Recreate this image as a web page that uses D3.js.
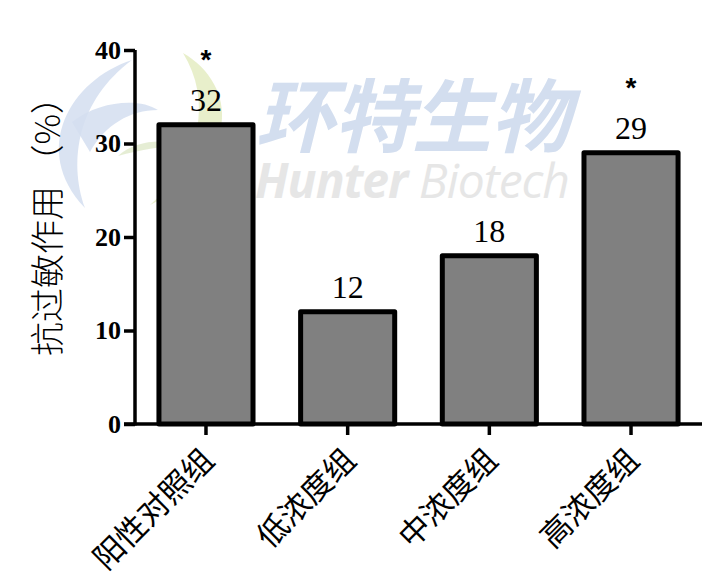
<!DOCTYPE html>
<html>
<head>
<meta charset="utf-8">
<script src="https://cdn.jsdelivr.net/npm/d3@7"></script>
<style>
  body { margin: 0; background: #fff; }
  svg { display: block; }
</style>
</head>
<body>
<div id="chart"></div>
<script>
const groups = ["阳性对照组", "低浓度组", "中浓度组", "高浓度组"];
const values = [32, 12, 18, 29];
const stars = ["*", "", "", "*"];
const yTicks = [0, 10, 20, 30, 40];
const yTitle = "抗过敏作用 （%）";

const W = 720, H = 586;
const plotLeft = 135, plotRight = 702, plotTop = 50, plotBottom = 424;

const svg = d3.select("#chart")
    .append("svg")
    .attr("width", W)
    .attr("height", H);

// watermark (faint logo + name, behind the chart)
const wm = svg.append("g").attr("class", "watermark");
wm.append("path")
    .attr("d", "M132,60 C70,80 30,150 85,208 C68,160 78,100 132,60 Z")
    .attr("fill", "#d3def0").attr("opacity", 0.85);
wm.append("path")
    .attr("d", "M72,122 C100,100 140,98 158,110 C130,110 105,125 90,152 Z")
    .attr("fill", "#d3def0").attr("opacity", 0.85);
wm.append("path")
    .attr("d", "M183,53 C238,85 242,160 150,205 C202,160 212,100 183,53 Z")
    .attr("fill", "#e4ecc2").attr("opacity", 0.85);
wm.append("path")
    .attr("d", "M118,156 C135,140 165,138 185,146 C160,146 140,150 118,156 Z")
    .attr("fill", "#e0eacd").attr("opacity", 0.85);
wm.append("text")
    .attr("x", 255).attr("y", 146)
    .style("font-family", "'Noto Sans CJK SC', sans-serif")
    .style("font-size", "80px")
    .style("font-weight", "bold")
    .style("font-style", "italic")
    .attr("fill", "#d3deef")
    .attr("textLength", 315)
    .text("环特生物");
const wmEn = wm.append("text")
    .attr("x", 255).attr("y", 198)
    .style("font-family", "'Open Sans', sans-serif")
    .style("font-size", "48px")
    .style("font-style", "italic")
    .attr("fill", "#e6e6e6")
    .attr("textLength", 315);
wmEn.append("tspan").style("font-weight", "bold").text("Hunter ");
wmEn.append("tspan").text("Biotech");

const x = d3.scaleBand()
    .domain(groups)
    .range([plotLeft, plotRight])
    .paddingInner(0.336)
    .paddingOuter(0.169);

const y = d3.scaleLinear()
    .domain([0, 40])
    .range([plotBottom, plotTop]);

// bars
svg.append("g")
    .selectAll("rect")
    .data(values)
    .join("rect")
    .attr("x", (d, i) => x(groups[i]))
    .attr("y", d => y(d))
    .attr("width", x.bandwidth())
    .attr("height", d => y(0) - y(d))
    .attr("fill", "#808080")
    .attr("stroke", "#000")
    .attr("stroke-width", 5)
    .attr("stroke-linejoin", "round");

// y axis
const yAxis = svg.append("g")
    .attr("transform", `translate(${plotLeft},0)`)
    .call(d3.axisLeft(y).tickValues(yTicks).tickSize(11).tickPadding(3).tickFormat(d3.format("d")));
yAxis.select(".domain").attr("stroke", "#000").attr("stroke-width", 3.5)
    .attr("d", `M0,${plotBottom + 1.5}V${plotTop}`);
yAxis.selectAll(".tick line").attr("stroke", "#000").attr("stroke-width", 3.5);
yAxis.selectAll(".tick text")
    .style("font-family", "'Liberation Serif', 'Times New Roman', serif")
    .style("font-weight", "bold")
    .style("font-size", "26px")
    .attr("fill", "#000");

// x axis
const xAxis = svg.append("g")
    .attr("transform", `translate(0,${plotBottom})`)
    .call(d3.axisBottom(x).tickSize(11).tickFormat(""));
xAxis.select(".domain").attr("stroke", "#000").attr("stroke-width", 3.5)
    .attr("d", `M${plotLeft - 11},0H${plotRight}`);
xAxis.selectAll(".tick line").attr("stroke", "#000").attr("stroke-width", 3.5);

// rotated category labels
svg.append("g")
    .selectAll("text")
    .data(groups)
    .join("text")
    .attr("transform", d => `translate(${x(d) + x.bandwidth() / 2 + 10},${plotBottom + 38}) rotate(-45)`)
    .attr("text-anchor", "end")
    .style("font-family", "'Noto Sans CJK SC', sans-serif")
    .style("font-size", "31px")
    .attr("fill", "#000")
    .text(d => d);

// value labels
svg.append("g")
    .selectAll("text")
    .data(values)
    .join("text")
    .attr("x", (d, i) => x(groups[i]) + x.bandwidth() / 2)
    .attr("y", d => y(d) - 14)
    .attr("text-anchor", "middle")
    .style("font-family", "'Liberation Serif', 'Times New Roman', serif")
    .style("font-size", "32px")
    .attr("fill", "#000")
    .text(d => d);

// significance stars
svg.append("g")
    .selectAll("text")
    .data(values)
    .join("text")
    .attr("x", (d, i) => x(groups[i]) + x.bandwidth() / 2)
    .attr("y", d => y(d) - 56)
    .attr("text-anchor", "middle")
    .style("font-family", "'Liberation Sans', Arial, sans-serif")
    .style("font-size", "28px")
    .style("font-weight", "bold")
    .attr("fill", "#000")
    .text((d, i) => stars[i]);

// y title
svg.append("text")
    .attr("transform", "translate(45,218) rotate(-90)")
    .attr("text-anchor", "middle")
    .attr("dominant-baseline", "central")
    .style("font-family", "'Noto Sans CJK SC', sans-serif")
    .style("font-size", "34px")
    .style("font-weight", "300")
    .attr("fill", "#000")
    .text(yTitle);
</script>
</body>
</html>
